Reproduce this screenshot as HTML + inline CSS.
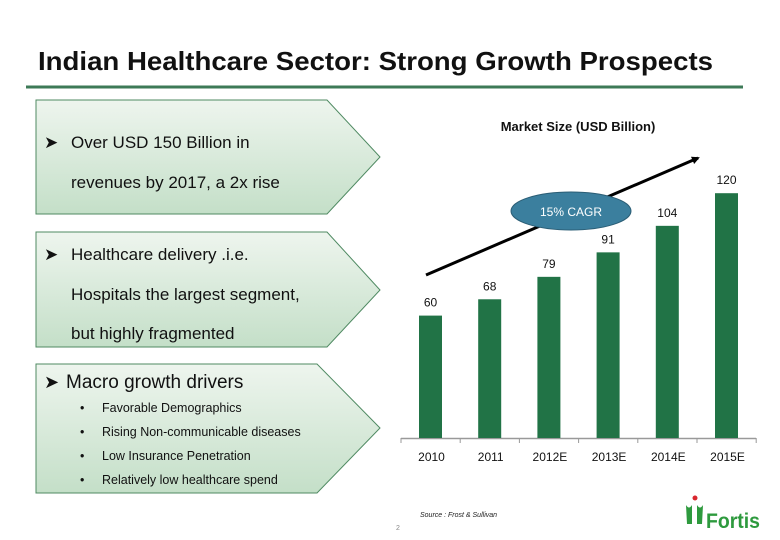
<!DOCTYPE html>
<html><head><meta charset="utf-8"><style>
html,body{margin:0;padding:0;background:#fff;}
svg{display:block;font-family:"Liberation Sans",sans-serif;}
</style></head><body>
<svg id="slide" width="780" height="540" viewBox="0 0 780 540">
<defs>
<linearGradient id="g1" x1="0" y1="0" x2="0" y2="1"><stop offset="0" stop-color="#eef5ee"/><stop offset="1" stop-color="#c4dfc8"/></linearGradient>
<marker id="ah" markerWidth="8" markerHeight="8" refX="6" refY="4" orient="auto" markerUnits="userSpaceOnUse"><path d="M0,0 L8,4 L0,8 z" fill="#000"/></marker>
</defs>
<text x="38" y="70" font-size="26" font-weight="bold" fill="#111" textLength="675" lengthAdjust="spacingAndGlyphs">Indian Healthcare Sector: Strong Growth Prospects</text>
<line x1="26" y1="87" x2="743" y2="87" stroke="#3d7a57" stroke-width="3"/>

<g>
<path d="M36,100 L327,100 L380,157 L327,214 L36,214 Z" fill="url(#g1)" stroke="#4f8a62" stroke-width="1"/>
<text x="44" y="148" font-size="17" fill="#111">➤</text>
<text x="71" y="148" font-size="17" fill="#111">Over USD 150 Billion in</text>
<text x="71" y="188" font-size="17" fill="#111">revenues by 2017, a 2x rise</text>
</g>
<g>
<path d="M36,232 L327,232 L380,290 L327,347 L36,347 Z" fill="url(#g1)" stroke="#4f8a62" stroke-width="1"/>
<text x="44" y="260" font-size="17" fill="#111">➤</text>
<text x="71" y="260" font-size="17" fill="#111">Healthcare delivery .i.e.</text>
<text x="71" y="300" font-size="17" fill="#111">Hospitals the largest segment,</text>
<text x="71" y="339" font-size="17" fill="#111">but highly fragmented</text>
</g>
<g>
<path d="M36,364 L317,364 L380,428 L317,493 L36,493 Z" fill="url(#g1)" stroke="#4f8a62" stroke-width="1"/>
<text x="44" y="388" font-size="18" fill="#111">➤</text>
<text x="66" y="388" font-size="19" fill="#111">Macro growth drivers</text>
<g font-size="12.5" fill="#111">
<text x="80" y="412">•</text><text x="102" y="412">Favorable  Demographics</text>
<text x="80" y="436">•</text><text x="102" y="436">Rising Non-communicable diseases</text>
<text x="80" y="460">•</text><text x="102" y="460">Low Insurance Penetration</text>
<text x="80" y="484">•</text><text x="102" y="484">Relatively low healthcare spend</text>
</g>
</g>

<text x="578" y="131" font-size="13" font-weight="bold" text-anchor="middle" fill="#111">Market Size (USD Billion)</text>
<g id="chart"></g>
<line x1="426" y1="275" x2="698" y2="158" stroke="#000" stroke-width="3" marker-end="url(#ah)"/>
<g>
<ellipse cx="571" cy="211" rx="60" ry="19" fill="#3b7f9e" stroke="#2a5d75" stroke-width="1"/>
<text x="571" y="216" font-size="12" fill="#fff" text-anchor="middle">15% CAGR</text>
</g>

<text x="420" y="517" font-size="7" font-style="italic" fill="#222">Source : Frost &amp; Sullivan</text>
<text x="396" y="530" font-size="7" fill="#888">2</text>
<g>
<circle cx="695" cy="498" r="2.5" fill="#d9262e"/>
<path d="M686,505 q3,5 6,0 v19 h-5 z M703,505 q-3,5 -6,0 v19 h5 z" fill="#2e9a3e"/>
<text x="706" y="528" font-size="21" font-weight="bold" fill="#2e9a3e" textLength="54" lengthAdjust="spacingAndGlyphs">Fortis</text>
</g>
</svg>
<script>
const categories = ["2010","2011","2012E","2013E","2014E","2015E"];
const values = [60,68,79,91,104,120];
const valueLabels = ["60","68","79","91","104","120"];

const NS = "http://www.w3.org/2000/svg";
const g = document.getElementById("chart");
const baseY = 438, pxPerUnit = 2.04;
const x0 = 419, step = 59.2, barW = 23;
function yScale(v){ return baseY - v * pxPerUnit; }
function xScale(i){ return x0 + i * step; }

const axis = document.createElementNS(NS, "line");
axis.setAttribute("x1", 401); axis.setAttribute("x2", 756);
axis.setAttribute("y1", baseY + 0.5); axis.setAttribute("y2", baseY + 0.5);
axis.setAttribute("stroke", "#999"); axis.setAttribute("stroke-width", 1.5);


g.appendChild(axis);

for (let i = 0; i <= categories.length; i++) {
  const t = document.createElementNS(NS, "line");
  const tx = 401 + i * step;
  t.setAttribute("x1", tx); t.setAttribute("x2", tx);
  t.setAttribute("y1", baseY); t.setAttribute("y2", baseY + 5);
  t.setAttribute("stroke", "#999");
  
  
  g.appendChild(t);
}

categories.forEach((c, i) => {
  const x = xScale(i), y = yScale(values[i]);
  const r = document.createElementNS(NS, "rect");
  r.setAttribute("x", x); r.setAttribute("y", y);
  r.setAttribute("width", barW); r.setAttribute("height", baseY - y);
  r.setAttribute("fill", "#217346");
  
  
  g.appendChild(r);

  const vl = document.createElementNS(NS, "text");
  vl.setAttribute("x", x + barW / 2); vl.setAttribute("y", y - 9);
  vl.setAttribute("text-anchor", "middle"); vl.setAttribute("font-size", "12");
  vl.setAttribute("fill", "#111");
  vl.textContent = valueLabels[i];
  
  
  g.appendChild(vl);

  const cl = document.createElementNS(NS, "text");
  cl.setAttribute("x", x + barW / 2 + 1); cl.setAttribute("y", 461);
  cl.setAttribute("text-anchor", "middle"); cl.setAttribute("font-size", "12");
  cl.setAttribute("fill", "#111");
  cl.textContent = c;
  
  
  g.appendChild(cl);
});
</script>
</body></html>
